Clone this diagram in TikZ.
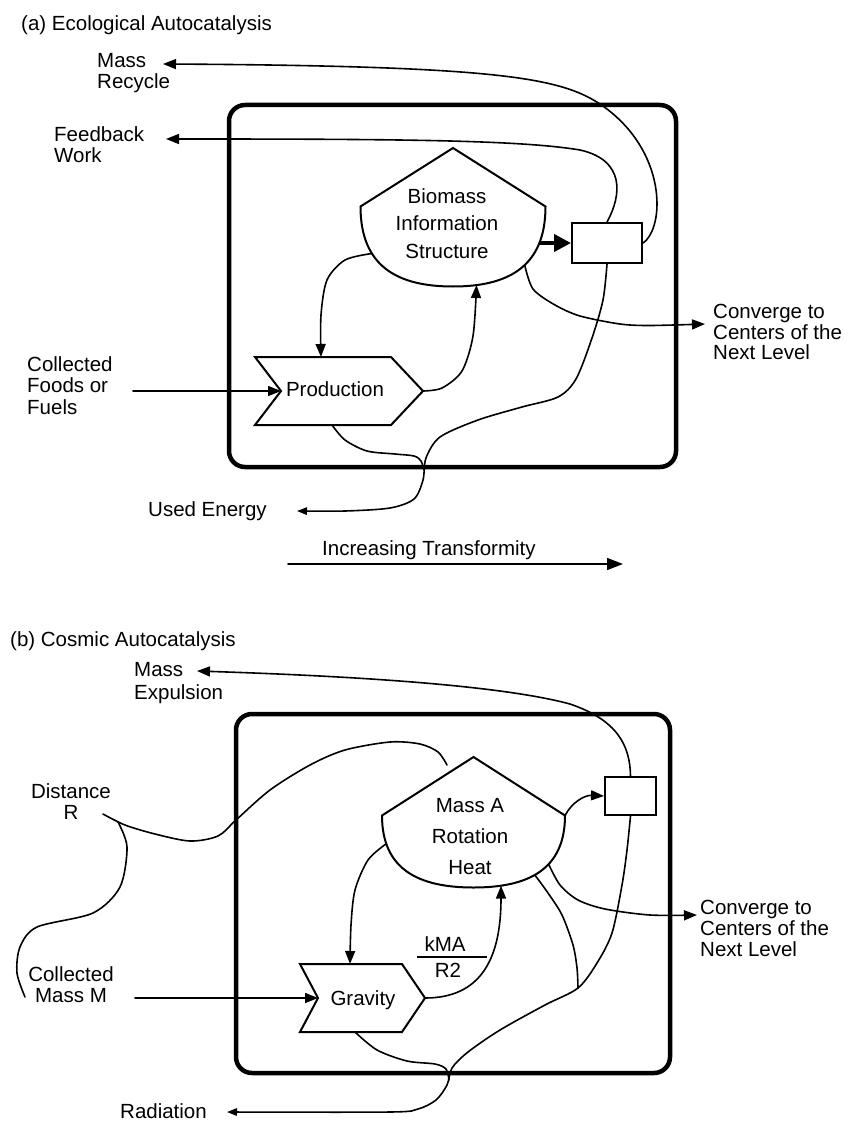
\documentclass[tikz,border=0pt]{standalone}
\usepackage{fontspec}
\setmainfont{Liberation Sans}
\usetikzlibrary{arrows.meta}
\begin{document}
\begin{tikzpicture}[x=1pt,y=-1pt,
  conn/.style={line width=1.6pt, line cap=round, line join=round},
  arr/.style={conn, -{Triangle[length=13pt,width=10pt]}},
  sarr/.style={conn, -{Triangle[length=10pt,width=7.5pt]}},
  thickarr/.style={line width=4pt, -{Triangle[length=17pt,width=17pt]}},
  outline/.style={line width=2pt, line join=miter},
  frame/.style={line width=4.5pt, rounded corners=16pt},
  lbl/.style={inner sep=0pt, font=\fontsize{20.5}{21.3}\selectfont},
  rectbox/.style={draw, line width=2pt, inner sep=0pt},
]
\useasboundingbox (0,0) rectangle (850,1123);

% ================= (a) =================
\node[lbl, anchor=base west] (titleA) at (21,30.5) {(a) Ecological Autocatalysis};
\draw[frame] (229,105) rectangle (676,467);

% tank A
\coordinate (tAapex) at (453,148);
\coordinate (tAL) at (360.5,206.5);
\coordinate (tAR) at (545.5,206.5);
\coordinate (tAbot) at (453,286.5);
\draw[outline] (tAL) -- (tAapex) -- (tAR) .. controls (545.5,266.5) and (508.5,286.5) .. (tAbot)
  .. controls (397.5,286.5) and (360.5,266.5) .. (tAL) -- cycle;
\node[lbl, anchor=north, align=center, font=\fontsize{20.5}{27.5}\selectfont] (tankA) at (447,188) {Biomass\\Information\\Structure};
\coordinate (tAl) at (372,253.5);
\coordinate (tAb) at (476.5,285);
\coordinate (tAc) at (524.7,265);
\coordinate (tAt) at (539.3,243);

% production A
\coordinate (pAn) at (281,391);
\coordinate (pAt) at (321,357);
\coordinate (pAr) at (423,391);
\coordinate (pAb) at (332,425);
\draw[outline] (255,357) -- (391,357) -- (pAr) -- (391,425) -- (255,425) -- (pAn) -- cycle;
\node[lbl, anchor=base] (prodA) at (335,396) {Production};

% rectangle A
\node[rectbox, minimum width=70pt, minimum height=40pt] (rA) at (607,243) {};

% labels A
\node[lbl, anchor=north west, align=left] (massrec) at (97,52.7) {Mass\\Recycle};
\node[lbl, anchor=north west, align=left, font=\fontsize{20.5}{20.3}\selectfont] (feedw) at (54,126.7) {Feedback\\Work};
\node[lbl, anchor=north west, align=left, font=\fontsize{20.5}{21.7}\selectfont] (collA) at (27,356) {Collected\\Foods or\\Fuels};
\node[lbl, anchor=north west, align=left, font=\fontsize{20.5}{20.5}\selectfont] (convA) at (713,304) {Converge to\\Centers of the\\Next Level};
\node[lbl, anchor=base west] (usedE) at (148,516) {Used Energy};
\node[lbl, anchor=base west] (incT) at (322,555.5) {Increasing Transformity};

\coordinate (mrA) at (163,64);
\coordinate (fbA) at (166,139);
\coordinate (cfA) at (133,391);
\coordinate (cvA) at (705,324);
\coordinate (ueA) at (297,511);
\coordinate (itS) at (288,564);
\coordinate (itE) at (623,564);

% connectors A
\draw[arr] (cfA) -- (pAn);
\draw[arr] plot[smooth] coordinates {(tAl) (345,260) (327,280) (321,315) (pAt)};
\draw[arr] plot[smooth] coordinates {(pAr) (442,388) (462,371) (473,336) (tAb)};
\draw[thickarr] (tAt) -- (rA.west);
\draw[arr] plot[smooth] coordinates {(tAc) (533,289) (555,305) (580,316) (620,324) (650,325.5) (cvA)};
\draw[arr] (rA.east) .. controls (665,228) and (668,150) .. (600,104)
  .. controls (560,78) and (500,66) .. (mrA);
\draw[arr] (rA.north) .. controls (622,195) and (625,160) .. (580,150)
  .. controls (520,140) and (400,139) .. (fbA);
\draw[sarr] plot[smooth] coordinates {(rA.south) (603,300) (592,338) (576,379) (558,397) (522,407) (478,420) (440,437) (426,458) (423,480) (414,499) (390,508) (345,511) (ueA)};
\draw[conn] plot[smooth] coordinates {(pAb) (345,440) (367,451) (395,454) (414,456) (421,461) (424,470)};
\draw[conn, -{Triangle[length=16pt,width=12pt]}] (itS) -- (itE);

% ================= (b) =================
\node[lbl, anchor=base west] (titleB) at (10,646.5) {(b) Cosmic Autocatalysis};
\draw[frame] (236,714) rectangle (670,1073);

% tank B
\coordinate (tBapex) at (473.5,757);
\coordinate (tBL) at (382,815.5);
\coordinate (tBR) at (565,815.5);
\coordinate (tBbot) at (473.5,887.5);
\draw[outline] (tBL) -- (tBapex) -- (tBR) .. controls (565,869.5) and (528.4,887.5) .. (tBbot)
  .. controls (418.6,887.5) and (382,869.5) .. (tBL) -- cycle;
\node[lbl, anchor=north, align=center, font=\fontsize{20.5}{31}\selectfont] (tankB) at (470,798) {Mass A\\Rotation\\Heat};
\coordinate (tBl) at (386.3,843.7);
\coordinate (tBb) at (501,885.6);
\coordinate (tBd) at (534.8,874.9);
\coordinate (tBc) at (548.6,864.1);

% gravity B
\coordinate (gBn) at (318,998);
\coordinate (gBt) at (350,964);
\coordinate (gBr) at (425,998);
\coordinate (gBb) at (355,1032);
\draw[outline] (300,964) -- (402,964) -- (gBr) -- (402,1032) -- (300,1032) -- (gBn) -- cycle;
\node[lbl, anchor=base] (gravB) at (363,1005) {Gravity};

% rectangle B
\node[rectbox, minimum width=51pt, minimum height=38pt] (rB) at (630.5,796) {};

% fraction
\node[lbl, anchor=base] (kma) at (445,951) {kMA};
\node[lbl, anchor=base] (rtwo) at (448,977) {R2};
\coordinate (fracL) at (417,957);
\coordinate (fracR) at (487,957);
\draw[conn, line cap=butt] (fracL) -- (fracR);

% labels B
\node[lbl, anchor=north west, align=left, font=\fontsize{20.5}{23}\selectfont] (massexp) at (134,662) {Mass\\Expulsion};
\node[lbl, anchor=north, align=center, font=\fontsize{20.5}{21}\selectfont] (distR) at (71,783) {Distance\\R};
\node[lbl, anchor=north, align=center, font=\fontsize{20.5}{21}\selectfont] (collB) at (71,966) {Collected\\Mass M};
\node[lbl, anchor=north west, align=left, font=\fontsize{20.5}{21}\selectfont] (convB) at (700,900) {Converge to\\Centers of the\\Next Level};
\node[lbl, anchor=base west] (radB) at (120,1118) {Radiation};

\coordinate (meA) at (197,671);
\coordinate (cmB) at (135,998);
\coordinate (cvB) at (697,915);
\coordinate (radA) at (227,1112);
\coordinate (jB) at (578,988);
\coordinate (dR) at (103,814);
\coordinate (dE) at (447,765);
\coordinate (dJ) at (118,822);
\coordinate (dM) at (25,997);

% connectors B
\draw[arr] (cmB) -- (gBn);
\draw[arr] plot[smooth] coordinates {(tBl) (368,860) (355,890) (351,925) (gBt)};
\draw[arr] (gBr) .. controls (480,998) and (501,960) .. (tBb);
\draw[arr] (tBR) .. controls (572,802) and (585,795) .. (rB.west);
\draw[arr] plot[smooth] coordinates {(tBc) (560,885) (578,900) (605,909) (650,915) (cvB)};
\draw[arr] (rB.north) .. controls (630,745) and (617,720) .. (570,704)
  .. controls (500,685) and (350,676) .. (meA);
\draw[conn] plot[smooth] coordinates {(tBd) (548,893) (562,915) (573,945) (577,968) (jB)};
\draw[sarr] plot[smooth] coordinates {(rB.south) (627,850) (622,885) (612,933) (597,963) (jB) (545,1005) (500,1030) (468,1052) (452,1068) (447,1085) (436,1100) (418,1109) (390,1112) (radA)};
\draw[conn] plot[smooth] coordinates {(gBb) (377,1050) (407,1061) (435,1064) (446,1069) (449,1080)};
\draw[conn] plot[smooth] coordinates {(dR) (125,825) (155,834) (190,841) (218,836) (236,820) (270,790) (310,765) (345,750) (390,742) (420,744) (438,752) (dE)};
\draw[conn] plot[smooth] coordinates {(dJ) (127,847) (120,887) (93,913) (37,927) (20,947) (17,973) (dM)};
\end{tikzpicture}
\end{document}
